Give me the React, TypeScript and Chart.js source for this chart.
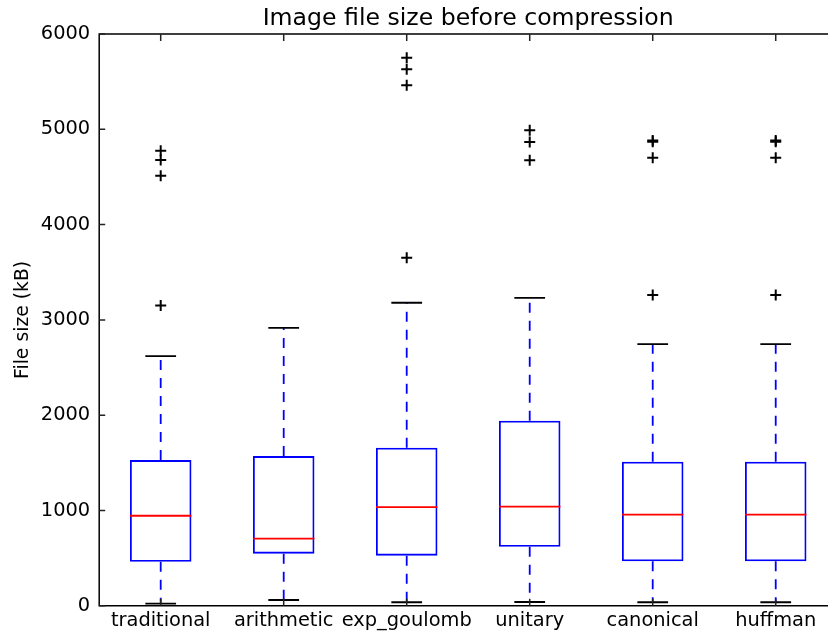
import React, { useEffect, useRef } from 'react';
import { Chart, registerables } from 'chart.js';

Chart.register(...registerables);

const categories = ['traditional', 'arithmetic', 'exp_goulomb', 'unitary', 'canonical', 'huffman'];
const whiskerLow = [22, 61, 37, 40, 37, 37];
const q1 = [463, 547, 526, 620, 467, 467];
const median = [945, 704, 1036, 1040, 956, 956];
const q3 = [1529, 1571, 1658, 1942, 1512, 1512];
const whiskerHigh = [2620, 2917, 3180, 3232, 2746, 2746];
const outliers = [
  [3152, 4513, 4677, 4774],
  [],
  [3652, 5463, 5631, 5750],
  [4674, 4868, 4991],
  [3260, 4701, 4870, 4882],
  [3260, 4701, 4870, 4882],
];
const yTicks = [0, 1000, 2000, 3000, 4000, 5000, 6000];
const titleText = 'Image file size before compression';
const yLabel = 'File size (kB)';

const FONT = 'DejaVu Sans';
const BLUE = '#0000ff';
const RED = '#ff0000';
// x range as matplotlib (0.5 .. 6.5); the picture is cut at 6.425
const X_MIN = 0.5;
const X_FULL_MAX = 6.5;
const X_VISIBLE_MAX = 6.425;

const boxParts = {
  id: 'boxParts',
  afterDatasetsDraw(chart: any) {
    const { ctx, scales } = chart;
    const x = scales.x;
    const y = scales.y;
    const meta = chart.getDatasetMeta(0);
    ctx.save();
    meta.data.forEach((bar: any, i: number) => {
      const cx = bar.x;
      const half = bar.width / 2;
      const yLo = y.getPixelForValue(whiskerLow[i]);
      const yQ1 = y.getPixelForValue(q1[i]);
      const yMed = y.getPixelForValue(median[i]);
      const yQ3 = y.getPixelForValue(q3[i]);
      const yHi = y.getPixelForValue(whiskerHigh[i]);
      ctx.strokeStyle = BLUE;
      ctx.lineWidth = 1.8;
      ctx.setLineDash([10, 8]);
      ctx.beginPath();
      ctx.moveTo(cx, yQ3);
      ctx.lineTo(cx, yHi);
      ctx.stroke();
      ctx.beginPath();
      ctx.moveTo(cx, yQ1);
      ctx.lineTo(cx, yLo);
      ctx.stroke();
      ctx.setLineDash([]);
      ctx.strokeStyle = '#000';
      ctx.lineWidth = 1.8;
      ctx.beginPath();
      ctx.moveTo(cx - half / 2, yHi);
      ctx.lineTo(cx + half / 2, yHi);
      ctx.moveTo(cx - half / 2, yLo);
      ctx.lineTo(cx + half / 2, yLo);
      ctx.stroke();
      ctx.strokeStyle = RED;
      ctx.lineWidth = 1.8;
      ctx.beginPath();
      ctx.moveTo(cx - half, yMed);
      ctx.lineTo(cx + half, yMed);
      ctx.stroke();
    });
    const a = chart.chartArea;
    ctx.strokeStyle = '#000';
    ctx.lineWidth = 1.5;
    ctx.beginPath();
    ctx.moveTo(a.right + 2, a.top);
    ctx.lineTo(a.left, a.top);
    ctx.lineTo(a.left, a.bottom);
    ctx.lineTo(a.right + 2, a.bottom);
    ctx.stroke();
    ctx.strokeStyle = '#222';
    ctx.beginPath();
    y.ticks.forEach((t: any) => {
      const py = y.getPixelForValue(t.value);
      ctx.moveTo(a.left, py);
      ctx.lineTo(a.left + 6, py);
    });
    x.ticks.forEach((t: any) => {
      const px = x.getPixelForValue(t.value);
      ctx.moveTo(px, a.bottom);
      ctx.lineTo(px, a.bottom - 7);
      ctx.moveTo(px, a.top);
      ctx.lineTo(px, a.top + 7);
    });
    ctx.stroke();
    const cxTitle = (x.getPixelForValue(X_MIN) + x.getPixelForValue(X_FULL_MAX)) / 2;
    ctx.fillStyle = '#000';
    ctx.font = `23.6px "${FONT}"`;
    ctx.textAlign = 'center';
    ctx.textBaseline = 'alphabetic';
    ctx.fillText(titleText, cxTitle, 25);
    ctx.restore();
  },
};

export default function App() {
  const ref = useRef<HTMLCanvasElement | null>(null);
  useEffect(() => {
    if (!ref.current) return;
    const outlierPoints = categories.flatMap((_c, i) => outliers[i].map((v) => ({ x: i + 1, y: v })));
    const chart = new Chart(ref.current, {
      type: 'bar',
      data: {
        datasets: [
          {
            type: 'bar',
            label: 'box',
            data: categories.map((_c, i) => ({ x: i + 1, y: [q1[i], q3[i]] })) as any,
            backgroundColor: 'rgba(0,0,0,0)',
            borderColor: BLUE,
            borderWidth: 1.8,
            borderSkipped: false,
            barPercentage: 0.5,
            categoryPercentage: 1,
          } as any,
          {
            type: 'line',
            label: 'outliers',
            data: outlierPoints as any,
            showLine: false,
            pointStyle: 'cross',
            pointRadius: 5.5,
            pointBorderWidth: 2,
            pointBorderColor: '#000',
            pointBackgroundColor: '#000',
            borderColor: '#000',
          } as any,
        ],
      },
      options: {
        animation: false,
        responsive: false,
        devicePixelRatio: 1,
        layout: { autoPadding: false, padding: { top: 34, left: 0, right: 0, bottom: 0 } },
        plugins: {
          legend: { display: false },
          tooltip: { enabled: false },
          title: { display: false },
        },
        scales: {
          x: {
            type: 'linear',
            min: X_MIN,
            max: X_VISIBLE_MAX,
            offset: false,
            afterBuildTicks: (s: any) => {
              s.ticks = categories.map((_c, i) => ({ value: i + 1 }));
            },
            grid: { display: false, drawTicks: false, offset: false },
            border: { display: false },
            ticks: {
              color: '#000',
              font: { family: FONT, size: 19.4 },
              padding: 4,
              autoSkip: false,
              maxRotation: 0,
              callback: (v: any) => categories[Math.round(Number(v)) - 1] ?? '',
            },
            afterFit: (s: any) => {
              s.height = 26.2;
              s.paddingLeft = 0;
              s.paddingRight = 0;
            },
          },
          y: {
            type: 'linear',
            min: 0,
            max: 6000,
            afterBuildTicks: (s: any) => {
              s.ticks = yTicks.map((v) => ({ value: v }));
            },
            grid: { display: false, drawTicks: false },
            border: { display: false },
            ticks: {
              color: '#000',
              font: { family: FONT, size: 19.4 },
              padding: 9,
              callback: (v: any) => String(v),
            },
            title: {
              display: true,
              text: yLabel,
              color: '#000',
              font: { family: FONT, size: 18.8 },
              padding: { top: 12, bottom: 0 },
            },
            afterFit: (s: any) => {
              s.width = 99.2;
            },
          },
        },
      },
      plugins: [boxParts],
    });
    return () => chart.destroy();
  }, []);
  return (
    <div style={{ position: 'absolute', left: 0, top: 0, width: 828, height: 632, background: '#fff' }}>
      <canvas ref={ref} width={828} height={632} style={{ width: 828, height: 632, display: 'block' }} />
    </div>
  );
}
